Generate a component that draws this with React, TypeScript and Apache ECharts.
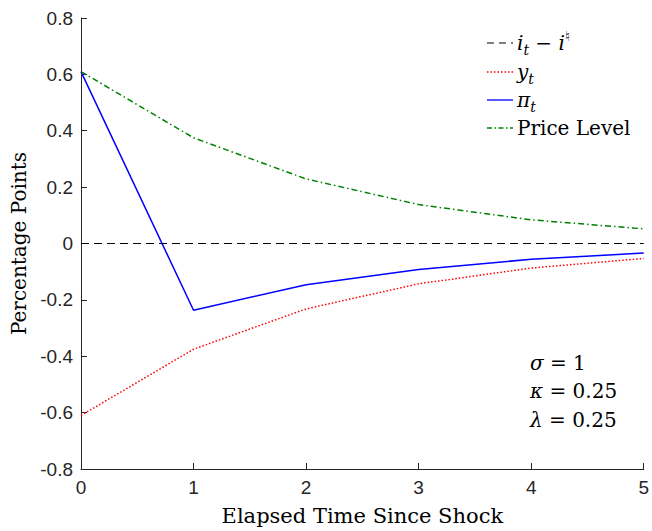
import React, { useEffect, useRef } from "react";
import * as echarts from "echarts";

const periods = [0, 1, 2, 3, 4, 5];
const interestGap = [0, 0, 0, 0, 0, 0];
const outputGap = [-0.61, -0.375, -0.232, -0.143, -0.087, -0.053];
const inflation = [0.61, -0.237, -0.146, -0.092, -0.056, -0.034];
const priceLevel = [0.61, 0.375, 0.229, 0.138, 0.084, 0.052];
const yTicks = [-0.8, -0.6, -0.4, -0.2, 0, 0.2, 0.4, 0.6, 0.8];

const serif = "DejaVu Serif";
const sans = "Liberation Sans, Arial";

const richStyles = {
  m: { fontFamily: serif, fontStyle: "italic", fontSize: 20, lineHeight: 28, verticalAlign: "middle", color: "#000" },
  r: { fontFamily: serif, fontSize: 20, lineHeight: 28, verticalAlign: "middle", color: "#000" },
  sub: { fontFamily: serif, fontStyle: "italic", fontSize: 14, lineHeight: 14, verticalAlign: "bottom", color: "#000" },
  sup: { fontFamily: "DejaVu Sans", fontSize: 14, lineHeight: 14, verticalAlign: "top", color: "#000" },
};

export default function App() {
  const ref = useRef<HTMLDivElement>(null);
  useEffect(() => {
    if (!ref.current) return;
    const chart = echarts.init(ref.current, null, { renderer: "svg" });
    const lx0 = 487, lx1 = 513, tx = 517;
    const rows = [43, 72, 100, 128];
    const legendLine = (y: number, color: string, dash: number[] | "solid", width = 1.3) => ({
      type: "line",
      shape: { x1: lx0, y1: y, x2: lx1, y2: y },
      style: { stroke: color, lineWidth: width, lineDash: dash },
    });
    const richText = (x: number, y: number, text: string) => ({
      type: "text",
      x,
      y,
      style: { text, rich: richStyles, fontFamily: serif, fontSize: 20, verticalAlign: "middle", align: "left" },
    });
    chart.setOption({
      animation: false,
      backgroundColor: "#fff",
      grid: { left: 81, right: 6, top: 18, bottom: 57 },
      xAxis: {
        type: "value",
        min: 0,
        max: 5,
        interval: 1,
        name: "Elapsed Time Since Shock",
        nameLocation: "middle",
        nameGap: 36,
        nameTextStyle: { fontFamily: serif, fontSize: 21, color: "#000" },
        axisLine: { onZero: false, lineStyle: { color: "#262626", width: 1 } },
        axisTick: { inside: true, length: 6, lineStyle: { color: "#262626" } },
        axisLabel: { fontFamily: sans, fontSize: 19, color: "#262626", margin: 9 },
        splitLine: { show: false },
      },
      yAxis: {
        type: "value",
        min: -0.8,
        max: 0.8,
        interval: 0.2,
        name: "Percentage Points",
        nameLocation: "middle",
        nameGap: 50,
        nameTextStyle: { fontFamily: serif, fontSize: 20, color: "#000" },
        axisLine: { show: true, onZero: false, lineStyle: { color: "#262626", width: 1 } },
        axisTick: { show: true, inside: true, length: 6, lineStyle: { color: "#262626" } },
        axisLabel: {
          fontFamily: sans,
          fontSize: 19,
          color: "#262626",
          margin: 8,
          formatter: (v: number) => {
            const r = Math.round(v * 10) / 10;
            if (!yTicks.some((t) => Math.abs(t - r) < 1e-9)) return "";
            return r === 0 ? "0" : r.toFixed(1);
          },
        },
        splitLine: { show: false },
      },
      series: [
        {
          name: "gap",
          type: "line",
          data: periods.map((p, i) => [p, interestGap[i]]),
          symbol: "none",
          lineStyle: { color: "#000", width: 1, type: [8, 5] },
          z: 1,
        },
        {
          name: "y",
          type: "line",
          data: periods.map((p, i) => [p, outputGap[i]]),
          symbol: "none",
          lineStyle: { color: "#ff0000", width: 1.5, type: [1.5, 2] },
        },
        {
          name: "pi",
          type: "line",
          data: periods.map((p, i) => [p, inflation[i]]),
          symbol: "none",
          lineStyle: { color: "#0000ff", width: 1.5, type: "solid" },
        },
        {
          name: "P",
          type: "line",
          data: periods.map((p, i) => [p, priceLevel[i]]),
          symbol: "none",
          lineStyle: { color: "#008000", width: 1.5, type: [6, 3, 1.5, 3] },
        },
      ],
      graphic: [
        legendLine(rows[0], "#000", [7, 5], 1),
        richText(tx, rows[0], "{m|i}{sub|t}{r| − }{m|i}{sup|♮\uFE0E}"),
        legendLine(rows[1], "#ff0000", [1.5, 2]),
        richText(tx, rows[1], "{m|y}{sub|t}"),
        legendLine(rows[2], "#0000ff", "solid"),
        richText(tx, rows[2], "{m|π}{sub|t}"),
        legendLine(rows[3], "#008000", [5, 2.5, 1.5, 2.5]),
        richText(tx, rows[3], "{r|Price Level}"),
        richText(530, 363, "{m|σ}{r| = 1}"),
        richText(530, 391, "{m|κ}{r| = 0.25}"),
        richText(530, 420, "{m|λ}{r| = 0.25}"),
      ],
    });
    return () => chart.dispose();
  }, []);
  return <div ref={ref} style={{ width: 652, height: 531, position: "absolute", left: 0, top: 0 }} />;
}
